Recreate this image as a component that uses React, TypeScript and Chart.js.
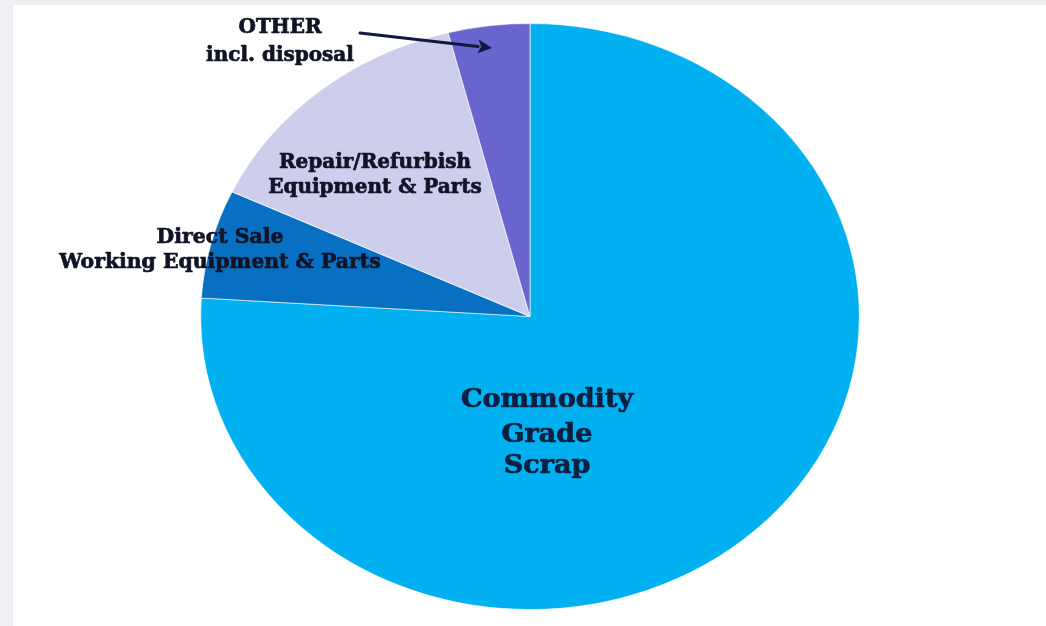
import React, { useEffect, useRef } from "react";
import { Chart, registerables } from "chart.js";

Chart.register(...registerables);

// ---- data ----
const categories = [
  "Commodity Grade Scrap",
  "Direct Sale Working Equipment & Parts",
  "Repair/Refurbish Equipment & Parts",
  "OTHER incl. disposal",
];
const shares = [76, 6, 14, 4];
const sliceColors = ["#00B0F0", "#0770C2", "#CDCDEC", "#6A64CE"];
const labelLines = [
  ["Commodity", "Grade", "Scrap"],
  ["Direct Sale", "Working Equipment & Parts"],
  ["Repair/Refurbish", "Equipment & Parts"],
  ["OTHER", "incl. disposal"],
];

// ---- layout / style ----
const W = 1046;
const H = 626;
const STRETCH_X = 1.124; // the pie in the picture is a horizontally stretched circle
const FONT_FAMILY = '"DejaVu Serif", "Liberation Serif", serif';
const labelLayout = [
  { cx: 547, baselines: [407, 442, 473], size: 26, sx: 1.04, color: "#0c1f3f" },
  { cx: 220, baselines: [243, 268], size: 20, sx: 1.02, color: "#111426" },
  { cx: 375, baselines: [168, 193], size: 20, sx: 1.0, color: "#111426" },
  { cx: 280, baselines: [33, 61], size: 20, sx: 1.0, color: "#111426" },
];
const arrow = { x1: 360, y1: 33, x2: 492, y2: 48, color: "#101a3c" };

const ellipsePlugin = {
  id: "ellipse",
  beforeDatasetsDraw(chart: any) {
    const arc = chart.getDatasetMeta(0).data[0];
    const ctx = chart.ctx;
    ctx.save();
    ctx.translate(arc.x, arc.y);
    ctx.scale(STRETCH_X, 1);
    ctx.translate(-arc.x, -arc.y);
  },
  afterDatasetsDraw(chart: any) {
    chart.ctx.restore();
  },
};

const labelPlugin = {
  id: "sliceLabels",
  afterDraw(chart: any) {
    const ctx = chart.ctx as CanvasRenderingContext2D;
    labelLines.forEach((lines, i) => {
      const lay = labelLayout[i];
      ctx.save();
      ctx.font = `bold ${lay.size}px ${FONT_FAMILY}`;
      ctx.fillStyle = lay.color;
      ctx.strokeStyle = lay.color;
      ctx.lineWidth = 0.7;
      ctx.lineJoin = "round";
      ctx.textAlign = "center";
      ctx.textBaseline = "alphabetic";
      lines.forEach((t, j) => {
        ctx.save();
        ctx.translate(lay.cx, lay.baselines[j]);
        ctx.scale(lay.sx, 1);
        ctx.fillText(t, 0, 0);
        ctx.strokeText(t, 0, 0);
        ctx.restore();
      });
      ctx.restore();
    });
    // arrow pointing to OTHER slice
    ctx.save();
    ctx.strokeStyle = arrow.color;
    ctx.fillStyle = arrow.color;
    ctx.lineWidth = 3;
    ctx.lineCap = "round";
    const ang = Math.atan2(arrow.y2 - arrow.y1, arrow.x2 - arrow.x1);
    const head = 14;
    const bx = arrow.x2 - head * Math.cos(ang);
    const by = arrow.y2 - head * Math.sin(ang);
    ctx.beginPath();
    ctx.moveTo(arrow.x1, arrow.y1);
    ctx.lineTo(bx, by);
    ctx.stroke();
    ctx.beginPath();
    ctx.moveTo(arrow.x2, arrow.y2);
    ctx.lineTo(bx - 7 * Math.sin(ang), by + 7 * Math.cos(ang));
    ctx.lineTo(bx + 3 * Math.cos(ang), by + 3 * Math.sin(ang));
    ctx.lineTo(bx + 7 * Math.sin(ang), by - 7 * Math.cos(ang));
    ctx.closePath();
    ctx.fill();
    ctx.restore();
  },
};

export default function App() {
  const ref = useRef<HTMLCanvasElement | null>(null);
  useEffect(() => {
    if (!ref.current) return;
    const chart = new Chart(ref.current, {
      type: "pie",
      data: {
        labels: categories,
        datasets: [
          {
            data: shares,
            backgroundColor: sliceColors,
            borderColor: "rgba(255,255,255,0.6)",
            borderWidth: 1,
          },
        ],
      },
      options: {
        responsive: false,
        animation: false,
        layout: { padding: { top: 23, bottom: 16, left: 14, right: 0 } },
        plugins: {
          legend: { display: false },
          tooltip: { enabled: false },
        },
      },
      plugins: [ellipsePlugin, labelPlugin],
    });
    return () => chart.destroy();
  }, []);

  return (
    <div
      style={{
        position: "fixed",
        left: 0,
        top: 0,
        width: W,
        height: H,
        background: "#f0f0f4",
        overflow: "hidden",
      }}
    >
      <div
        style={{
          position: "absolute",
          left: 13,
          top: 5,
          right: 0,
          bottom: 0,
          background: "#ffffff",
        }}
      />
      <canvas
        ref={ref}
        width={W}
        height={H}
        style={{ position: "absolute", left: 0, top: 0, width: W, height: H }}
      />
    </div>
  );
}
